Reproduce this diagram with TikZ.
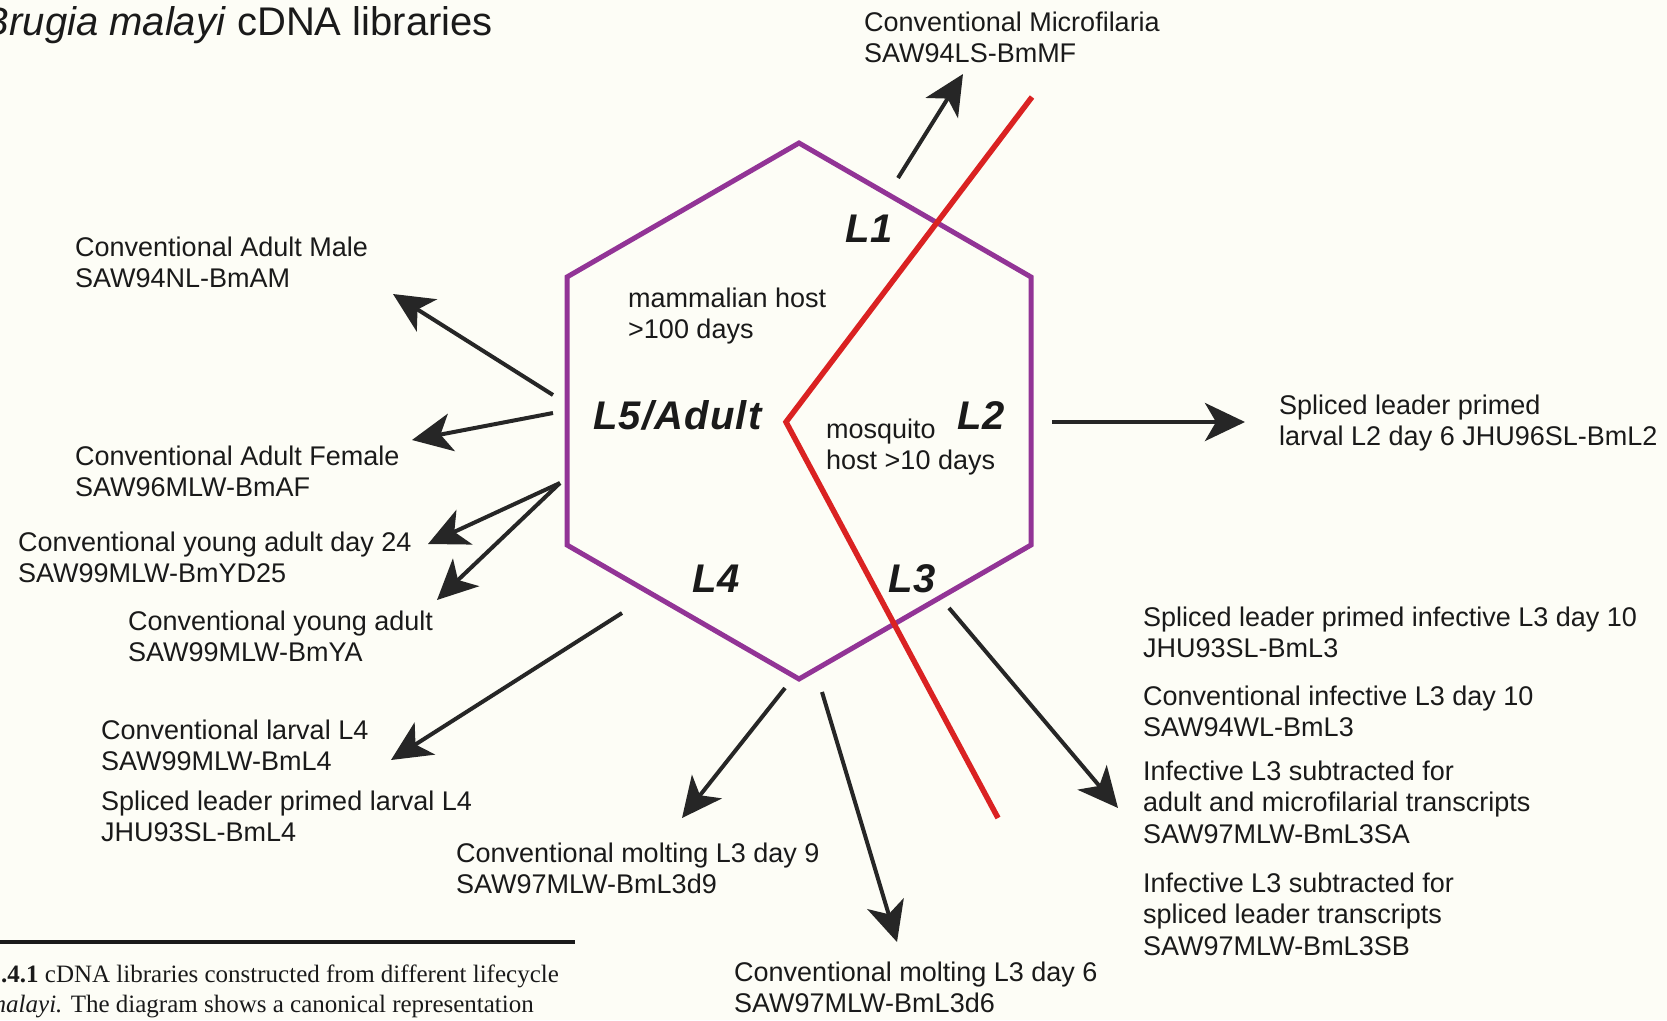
\documentclass[tikz,border=0pt]{standalone}
\usepackage{fontspec}
\setmainfont{Liberation Sans}
\newfontfamily\capfont{Liberation Serif}
\newfontfamily\stagefont[LetterSpace=3]{Liberation Sans}
\usetikzlibrary{arrows.meta}

\definecolor{paper}{RGB}{253,253,246}
\definecolor{hexpurple}{RGB}{146,52,150}
\definecolor{hostred}{RGB}{218,34,34}
\definecolor{arrowgray}{RGB}{38,38,38}
\definecolor{ink}{RGB}{26,26,26}

% stacked label lines; the baseline of the box is that of the first line
\newcommand\stk[2]{\vtop{\hbox{#1}\hbox{#2}}}
\newcommand\stkiii[3]{\vtop{\hbox{#1}\hbox{#2}\hbox{#3}}}

\tikzset{
  lbl/.style={anchor=base west, inner sep=0pt, text=ink,
    font=\fontsize{27}{31.5}\selectfont},
  stage/.style={anchor=base west, inner sep=0pt, text=ink,
    font=\stagefont\bfseries\itshape\fontsize{40}{48}\selectfont},
  titletext/.style={anchor=base east, inner sep=0pt, text=ink,
    font=\fontsize{40}{48}\selectfont},
  captext/.style={anchor=base west, inner sep=0pt, text=ink,
    font=\capfont\fontsize{25}{30}\selectfont},
  libarrow/.style={draw=arrowgray, line width=4pt,
    -{Stealth[length=40pt,width=38pt,inset=11pt]}},
  hexline/.style={draw=hexpurple, line width=5pt, line join=miter},
  hostline/.style={draw=hostred, line width=5.5pt, line join=miter},
}

\begin{document}
\begin{tikzpicture}[x=1pt,y=-1pt]
  \fill[paper] (0,0) rectangle (1667,1020);
  \useasboundingbox (0,0) rectangle (1667,1020);

  % title
  \node[titletext] (title) at (493,35) {\textit{Brugia malayi} cDNA libraries};

  % lifecycle hexagon
  \coordinate (hT)  at (799,143);
  \coordinate (hUR) at (1031,277);
  \coordinate (hLR) at (1031,545);
  \coordinate (hB)  at (799,679);
  \coordinate (hLL) at (567,545);
  \coordinate (hUL) at (567,277);
  \draw[hexline] (hT) -- (hUR) -- (hLR) -- (hB) -- (hLL) -- (hUL) -- cycle;

  % host boundary
  \coordinate (rTop) at (1032,97);
  \coordinate (rMid) at (786,422);
  \coordinate (rBot) at (998,818);
  \draw[hostline] (rTop) -- (rMid) -- (rBot);

  % stage labels
  \node[stage] (sL1) at (845,242) {L1};
  \node[stage] (sL2) at (957,429) {L2};
  \node[stage] (sL3) at (888,592) {L3};
  \node[stage] (sL4) at (692,592) {L4};
  \node[stage] (sL5) at (593,429) {L5/Adult};
  \node[lbl] (mammal) at (628,307) {\stk{mammalian host}{>100 days}};
  \node[lbl] (mosq) at (826,438) {\stk{mosquito}{host >10 days}};

  % libraries
  \node[lbl] (mf)  at (864,31)  {\stk{Conventional Microfilaria}{SAW94LS-BmMF}};
  \node[lbl] (am)  at (75,256)  {\stk{Conventional Adult Male}{SAW94NL-BmAM}};
  \node[lbl] (af)  at (75,465)  {\stk{Conventional Adult Female}{SAW96MLW-BmAF}};
  \node[lbl] (yd)  at (18,551)  {\stk{Conventional young adult day 24}{SAW99MLW-BmYD25}};
  \node[lbl] (ya)  at (128,630) {\stk{Conventional young adult}{SAW99MLW-BmYA}};
  \node[lbl] (l4c) at (101,739) {\stk{Conventional larval L4}{SAW99MLW-BmL4}};
  \node[lbl] (l4s) at (101,810) {\stk{Spliced leader primed larval L4}{JHU93SL-BmL4}};
  \node[lbl] (d9)  at (456,862) {\stk{Conventional molting L3 day 9}{SAW97MLW-BmL3d9}};
  \node[lbl] (d6)  at (734,981) {\stk{Conventional molting L3 day 6}{SAW97MLW-BmL3d6}};
  \node[lbl] (l2)  at (1279,414) {\stk{Spliced leader primed}{larval L2 day 6 JHU96SL-BmL2}};
  \node[lbl] (l3s) at (1143,626) {\stk{Spliced leader primed infective L3 day 10}{JHU93SL-BmL3}};
  \node[lbl] (l3c) at (1143,705) {\stk{Conventional infective L3 day 10}{SAW94WL-BmL3}};
  \node[lbl] (l3a) at (1143,780) {\stkiii{Infective L3 subtracted for}{adult and microfilarial transcripts}{SAW97MLW-BmL3SA}};
  \node[lbl] (l3b) at (1143,892) {\stkiii{Infective L3 subtracted for}{spliced leader transcripts}{SAW97MLW-BmL3SB}};

  % arrow ends
  \coordinate (mfT) at (898,178);  \coordinate (mfH) at (963,74);
  \coordinate (amT) at (553,395);  \coordinate (amH) at (393,294);
  \coordinate (afT) at (553,413);  \coordinate (afH) at (412,440);
  \coordinate (yT)  at (560,483);
  \coordinate (ydH) at (428,544);  \coordinate (yaH) at (437,600);
  \coordinate (l4T) at (622,613);  \coordinate (l4H) at (391,760);
  \coordinate (d9T) at (785,688);  \coordinate (d9H) at (682,818);
  \coordinate (d6T) at (822,692);  \coordinate (d6H) at (897,942);
  \coordinate (l3T) at (949,608);  \coordinate (l3H) at (1118,808);
  \coordinate (l2T) at (1052,422); \coordinate (l2H) at (1245,422);

  \draw[libarrow] (mfT) -- (mfH);
  \draw[libarrow] (amT) -- (amH);
  \draw[libarrow] (afT) -- (afH);
  \draw[libarrow] (yT) -- (ydH);
  \draw[libarrow] (yT) -- (yaH);
  \draw[libarrow] (l4T) -- (l4H);
  \draw[libarrow] (d9T) -- (d9H);
  \draw[libarrow] (d6T) -- (d6H);
  \draw[libarrow] (l3T) -- (l3H);
  \draw[libarrow] (l2T) -- (l2H);

  % caption
  \coordinate (ruleL) at (0,942);
  \coordinate (ruleR) at (575,942);
  \draw[ink, line width=4.5pt] (ruleL) -- (ruleR);
  \node[captext] (cap1) at (1,982) {\textbf{.4.1} cDNA libraries constructed from different lifecycle};
  \node[captext] (cap2) at (-12,1012) {\textit{malayi.} The diagram shows a canonical representation};
\end{tikzpicture}
\end{document}
